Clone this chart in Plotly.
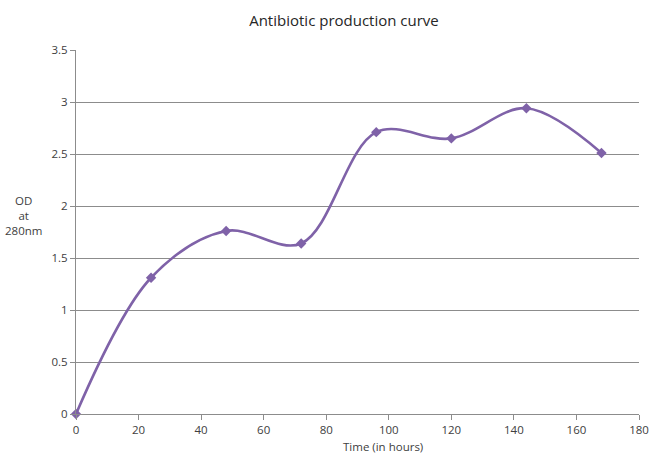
import plotly.graph_objects as go

time_hours = [0, 24, 48, 72, 96, 120, 144, 168]
od_280 = [0.0, 1.31, 1.76, 1.64, 2.71, 2.65, 2.94, 2.51]
x_ticks = [0, 20, 40, 60, 80, 100, 120, 140, 160, 180]
y_ticks = [0, 0.5, 1, 1.5, 2, 2.5, 3, 3.5]
y_tick_labels = ["0", "0.5", "1", "1.5", "2", "2.5", "3", "3.5"]

purple = "#7F62A8"
grid = "#8C8C8C"
font = "Open Sans"

W, H = 651, 455
L, R, T, B = 76, 12, 50, 41

fig = go.Figure()
fig.add_trace(go.Scatter(
    x=time_hours, y=od_280, mode="lines+markers",
    line=dict(color=purple, width=2.6, shape="spline", smoothing=1.0),
    marker=dict(symbol="diamond", size=8, color=purple),
    showlegend=False, cliponaxis=False,
))

pw = W - L - R
ph = H - T - B

def px(x):
    return (x - L) / pw

def py(y):
    return (H - B - y) / ph

fig.update_layout(
    width=W, height=H,
    margin=dict(l=L, r=R, t=T, b=B, autoexpand=False),
    paper_bgcolor="white", plot_bgcolor="white",
    font=dict(family=font, size=11, color="#404040"),
    title=dict(text="Antibiotic production curve", x=344 / W, xanchor="center",
               y=1 - 21 / H, yanchor="middle", font=dict(size=15, color="#262626")),
    xaxis=dict(range=[0, 180], tickvals=x_ticks, showgrid=False, zeroline=False,
               showline=True, linecolor=grid, linewidth=1, ticks="outside",
               ticklen=5, tickcolor=grid, tickfont=dict(size=11.5), fixedrange=True,
               automargin=False),
    yaxis=dict(range=[0, 3.5], tickvals=y_ticks, ticktext=y_tick_labels,
               showgrid=True, gridcolor=grid, gridwidth=1, zeroline=False,
               showline=True, linecolor=grid, linewidth=1, ticks="outside",
               ticklen=5, tickcolor=grid, tickfont=dict(size=11.5), fixedrange=True,
               automargin=False),
    annotations=[
        dict(text="OD<br>at<br>280nm", x=px(23), y=py(215), xref="paper", yref="paper",
             xanchor="center", yanchor="middle",
             showarrow=False, font=dict(size=11.5, color="#404040"), align="center"),
        dict(text="Time (in hours)", x=px(383), y=py(447), xref="paper", yref="paper",
             xanchor="center", yanchor="middle",
             showarrow=False, font=dict(size=11.5, color="#404040")),
    ],
)

fig.write_html("out.html", config={"displayModeBar": False},
               post_script="document.body.style.margin='0';")
